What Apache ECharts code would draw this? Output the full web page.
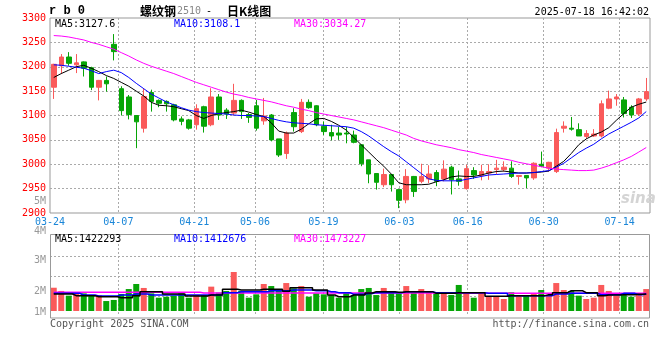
<!DOCTYPE html>
<html><head><meta charset="utf-8">
<script src="https://cdn.jsdelivr.net/npm/echarts@6/dist/echarts.min.js"></script>
<style>html,body{margin:0;padding:0;background:#fff}#c{width:660px;height:360px}</style>
</head><body><div id="c"></div>
<script>
// ---------- data ----------
const dates = ['03-24','03-25','03-26','03-27','03-28','03-31','04-01','04-02','04-03','04-07',
'04-08','04-09','04-10','04-11','04-14','04-15','04-16','04-17','04-18','04-21',
'04-22','04-23','04-24','04-25','04-28','04-29','04-30','05-06','05-07','05-08',
'05-09','05-12','05-13','05-14','05-15','05-16','05-19','05-20','05-21','05-22',
'05-23','05-26','05-27','05-28','05-29','05-30','06-03','06-04','06-05','06-06',
'06-09','06-10','06-11','06-12','06-13','06-16','06-17','06-18','06-19','06-20',
'06-23','06-24','06-25','06-26','06-27','06-30','07-01','07-02','07-03','07-04',
'07-07','07-08','07-09','07-10','07-11','07-14','07-15','07-16','07-17','07-18'];
const labelDates = ['03-24','04-07','04-21','05-06','05-19','06-03','06-16','06-30','07-14'];

const opens = [3158,3202,3220,3204,3210,3198,3158,3172,3246,3155,
3138,3100,3074,3147,3131,3129,3122,3093,3091,3081,
3118,3081,3138,3111,3105,3131,3102,3120,3089,3101,
3052,3022,3106,3067,3127,3120,3078,3065,3064,3064,
3060,3040,3009,2981,2958,2979,2948,2927,2975,2965,
2970,2983,2970,2994,2970,2950,2987,2977,2982,2989,
2989,2992,2975,2977,2972,3000,2992,2985,3074,3074,
3071,3057,3058,3058,3115,3134,3132,3117,3103,3134];
const closes = [3205,3220,3207,3208,3197,3158,3172,3165,3231,3110,
3102,3087,3139,3129,3125,3124,3091,3088,3074,3114,
3078,3138,3101,3103,3131,3108,3096,3074,3099,3050,
3019,3064,3077,3127,3116,3081,3067,3058,3060,3062,
3045,3001,2980,2963,2979,2958,2926,2975,2944,2975,
2980,2965,2990,2968,2965,2991,2978,2985,2985,2992,
2994,2975,2977,2972,3002,2996,3004,3065,3078,3072,
3058,3063,3062,3124,3134,3138,3104,3101,3134,3149];
const lows = [3134,3185,3202,3187,3180,3152,3131,3149,3213,3100,
3092,3033,3065,3108,3117,3108,3088,3080,3071,3071,
3065,3078,3091,3093,3100,3093,3085,3069,3081,3047,
3015,3011,3067,3064,3114,3078,3060,3049,3050,3043,
3043,2996,2961,2948,2953,2944,2910,2920,2933,2961,
2961,2955,2965,2938,2956,2948,2970,2967,2968,2980,
2985,2972,2958,2951,2968,2994,2985,2982,3065,3069,
3058,3052,3056,3055,3113,3120,3096,3095,3099,3130];
const highs = [3206,3226,3230,3226,3211,3200,3173,3180,3267,3160,
3142,3101,3156,3153,3133,3131,3124,3098,3093,3123,
3120,3156,3144,3115,3165,3133,3105,3132,3136,3103,
3052,3067,3115,3134,3133,3121,3088,3081,3077,3077,
3069,3040,3009,2981,2991,2979,2948,2990,2976,3001,
2998,2988,3008,2997,2987,2999,2994,2999,3000,3009,
3006,3006,2977,2977,3004,3026,3005,3073,3088,3097,
3084,3070,3072,3131,3151,3144,3138,3121,3136,3177];

const ma5 = [3178,3186,3193,3200,3203,3197,3190,3182,3176,3168,
3160,3150,3140,3127,3121,3120,3118,3114,3110,3100,
3094,3100,3104,3106,3108,3111,3107,3102,3098,3085,
3068,3064,3064,3072,3083,3093,3094,3088,3080,3070,
3055,3040,3025,3010,2996,2980,2962,2958,2958,2958,
2959,2964,2968,2974,2976,2975,2975,2978,2982,2985,
2986,2984,2982,2982,2983,2984,2986,2996,3006,3022,
3040,3052,3060,3066,3075,3090,3104,3117,3123,3127.6];
const ma10 = [3204,3203,3201,3199,3197,3192,3186,3190,3193,3188,
3178,3166,3155,3144,3136,3128,3122,3116,3111,3108,
3106,3105,3104,3103,3101,3100,3100,3099,3098,3094,
3090,3087,3085,3084,3083,3081,3080,3079,3078,3077,
3074,3067,3058,3047,3036,3026,3017,3005,2993,2981,
2970,2967,2966,2966,2966,2969,2972,2975,2978,2979,
2980,2981,2982,2982,2983,2985,2987,2994,3002,3013,
3024,3033,3041,3052,3062,3070,3078,3086,3095,3108.1];
const ma30 = [3264,3263,3261,3258,3255,3250,3246,3241,3236,3229,
3222,3214,3207,3201,3196,3191,3186,3180,3174,3168,
3163,3158,3153,3148,3144,3141,3137,3134,3131,3128,
3124,3120,3117,3113,3110,3106,3103,3100,3097,3094,
3091,3087,3083,3079,3075,3070,3065,3060,3053,3048,
3044,3040,3037,3034,3030,3027,3024,3020,3017,3014,
3011,3008,3004,3001,2998,2995,2992,2990,2989,2988,
2987,2987,2988,2992,2997,3003,3009,3016,3025,3034.27];

// volume, in millions of lots
const volumeM = [1.94,1.67,1.28,1.42,1.47,1.33,1.33,0.83,0.92,1.42,
1.83,2.25,1.92,1.47,1.11,1.19,1.28,1.47,1.11,1.33,
1.33,2.03,1.53,1.67,3.25,1.67,1.11,1.39,2.25,2.08,
1.69,2.33,1.89,2.08,1.19,1.47,1.39,1.33,1.11,1.56,
1.33,1.83,1.92,1.33,1.92,1.61,1.47,2.08,1.53,1.83,
1.61,1.56,1.56,1.33,2.17,1.47,1.11,1.47,1.25,1.25,
1.00,1.56,1.33,1.25,1.50,1.75,1.33,2.33,1.75,1.67,
1.28,1.00,1.11,2.17,1.67,1.25,1.33,1.19,1.50,1.83];
const volMa5M = [1.42,1.42,1.42,1.28,1.28,1.28,1.19,1.19,1.19,1.11,
1.11,1.28,1.61,1.61,1.61,1.42,1.42,1.42,1.25,1.25,
1.25,1.33,1.33,1.81,1.81,1.75,1.75,1.75,1.81,1.81,
1.81,1.64,1.94,1.94,1.94,1.75,1.75,1.33,1.19,1.19,
1.33,1.33,1.50,1.61,1.61,1.61,1.56,1.61,1.61,1.61,
1.61,1.47,1.47,1.47,1.53,1.53,1.53,1.53,1.22,1.22,
1.22,1.28,1.28,1.28,1.28,1.28,1.36,1.53,1.53,1.69,
1.69,1.53,1.53,1.28,1.33,1.33,1.36,1.36,1.40,1.422293];
const volMa10M = [1.47,1.47,1.47,1.47,1.33,1.33,1.25,1.25,1.25,1.33,
1.33,1.42,1.42,1.33,1.33,1.33,1.33,1.33,1.33,1.33,
1.33,1.33,1.33,1.53,1.53,1.61,1.61,1.61,1.61,1.69,
1.69,1.69,1.75,1.75,1.75,1.69,1.69,1.61,1.53,1.53,
1.39,1.39,1.45,1.53,1.53,1.53,1.53,1.61,1.61,1.61,
1.61,1.53,1.53,1.53,1.53,1.53,1.53,1.53,1.47,1.47,
1.47,1.28,1.28,1.28,1.28,1.28,1.28,1.42,1.42,1.47,
1.47,1.47,1.47,1.36,1.36,1.36,1.47,1.47,1.36,1.412676];
const volMa30M = [1.56,1.56,1.56,1.56,1.56,1.56,1.56,1.56,1.56,1.56,
1.56,1.56,1.56,1.56,1.56,1.56,1.56,1.56,1.56,1.56,
1.50,1.50,1.50,1.50,1.50,1.50,1.50,1.50,1.50,1.50,
1.50,1.50,1.50,1.50,1.50,1.50,1.50,1.50,1.50,1.50,
1.50,1.50,1.50,1.50,1.50,1.50,1.50,1.50,1.50,1.50,
1.50,1.47,1.47,1.47,1.47,1.47,1.47,1.47,1.47,1.47,
1.47,1.47,1.47,1.47,1.47,1.47,1.47,1.47,1.47,1.47,
1.47,1.47,1.47,1.47,1.47,1.47,1.47,1.47,1.47,1.473227];

const volTickLabels = ['5M','4M','3M','2M','1M'];
const volTickY = [201,231,260,291,312];

// ---------- styles ----------
const MONO = '"DejaVu Sans Mono", monospace';
const CJK = '"Noto Sans CJK SC", sans-serif';
const RED = '#fa5a5a', GREEN = '#07a507';
const GRIDC = '#aaaaaa', FRAME = '#999999';
const last = a => a[a.length - 1];

const isLabel = (i, v) => labelDates.indexOf(v) >= 0;
const isSplit = (i, v) => i > 0 && labelDates.indexOf(v) >= 0;

const chart = echarts.init(document.getElementById('c'), null, {renderer: 'canvas'});

const txt = (text, x, y, fill, font, align) => ({
  type: 'text', x: x, y: y, z: 100,
  style: {text: text, fill: fill, font: font, align: align || 'left', verticalAlign: 'middle'}
});

const graphics = [
  {type: 'rect', z: 50, shape: {x: 50.5, y: 234.5, width: 599, height: 83.5},
   style: {fill: 'none', stroke: FRAME, lineWidth: 1}},
  txt('r b 0', 49, 11, '#000', 'bold 12px "Liberation Mono", monospace'),
  txt('螺纹钢', 140, 11, '#000', 'bold 12px ' + CJK),
  txt('2510', 177, 11, '#888', '10px ' + MONO),
  txt('-', 209, 11, '#000', '10px ' + MONO, 'center'),
  txt('日K线图', 227, 11, '#000', 'bold 12px ' + CJK),
  txt('2025-07-18 16:42:02', 649, 12, '#000', '10px ' + MONO, 'right'),
  txt('MA5:' + last(ma5), 55, 24, '#000', '10px ' + MONO),
  txt('MA10:' + last(ma10), 174, 24, '#0000ff', '10px ' + MONO),
  txt('MA30:' + last(ma30), 294, 24, '#ff00ff', '10px ' + MONO),
  txt('MA5:' + Math.round(last(volMa5M) * 1e6), 55, 239, '#000', '10px ' + MONO),
  txt('MA10:' + Math.round(last(volMa10M) * 1e6), 174, 239, '#0000ff', '10px ' + MONO),
  txt('MA30:' + Math.round(last(volMa30M) * 1e6), 294, 239, '#ff00ff', '10px ' + MONO),
  txt('Copyright 2025 SINA.COM', 50, 324, '#555', '10px ' + MONO),
  txt('http://finance.sina.com.cn', 649, 324, '#555', '10px ' + MONO, 'right'),
  txt('sina', 621, 199, '#d4d4d4', 'italic bold 15px "DejaVu Sans", sans-serif')
];
volTickLabels.forEach((t, k) => graphics.push(txt(t, 46, volTickY[k], '#999', '10px ' + MONO, 'right')));

const splitStyle = {color: GRIDC, type: [2, 2], width: 1};
const hiddenCat = (g) => ({type: 'category', gridIndex: g, data: dates, boundaryGap: true,
  axisLine: {show: false}, axisTick: {show: false}, axisLabel: {show: false}, splitLine: {show: false}});

const option = {
  animation: false,
  backgroundColor: '#fff',
  grid: [
    {left: 50, top: 18, width: 600, height: 195, show: true, borderColor: FRAME, borderWidth: 1, backgroundColor: 'transparent'},
    {left: 50, top: 236, width: 600, height: 80}
  ],
  xAxis: [
    hiddenCat(0),
    hiddenCat(1),
    {type: 'category', gridIndex: 0, data: dates, boundaryGap: false, position: 'bottom',
     axisLine: {show: false}, axisTick: {show: false},
     axisLabel: {interval: isLabel, color: '#1a86d8', fontFamily: MONO, fontSize: 10, margin: 4},
     splitLine: {show: true, interval: isSplit, lineStyle: splitStyle}},
    {type: 'category', gridIndex: 1, data: dates, boundaryGap: false, position: 'bottom',
     axisLine: {show: false}, axisTick: {show: false}, axisLabel: {show: false},
     splitLine: {show: true, interval: isSplit, lineStyle: splitStyle}}
  ],
  yAxis: [
    {type: 'value', gridIndex: 0, min: 2900, max: 3300, interval: 50,
     axisLine: {show: false}, axisTick: {show: false},
     axisLabel: {color: '#ff0000', fontFamily: MONO, fontSize: 10, margin: 4, padding: [0, 0, 3, 0],
                 formatter: v => String(v)},
     splitLine: {show: true, lineStyle: splitStyle, showMinLine: false, showMaxLine: false}},
    {type: 'value', gridIndex: 1, min: -5 / 12, max: 6.25,
     axisLine: {show: false}, axisTick: {show: false}, axisLabel: {show: false}, splitLine: {show: false}},
    {type: 'value', gridIndex: 1, min: 0, max: 4, interval: 1,
     axisLine: {show: false}, axisTick: {show: false}, axisLabel: {show: false},
     splitLine: {show: true, lineStyle: splitStyle, showMinLine: false, showMaxLine: false}}
  ],
  series: [
    {type: 'candlestick', xAxisIndex: 0, yAxisIndex: 0, barWidth: 5,
     data: dates.map((d, i) => [opens[i], closes[i], lows[i], highs[i]]),
     itemStyle: {color: RED, color0: GREEN, borderColor: RED, borderColor0: GREEN, borderWidth: 1}, z: 2},
    {type: 'line', name: 'MA5', xAxisIndex: 0, yAxisIndex: 0, data: ma5, symbol: 'none',
     lineStyle: {color: '#000', width: 1}, z: 3},
    {type: 'line', name: 'MA10', xAxisIndex: 0, yAxisIndex: 0, data: ma10, symbol: 'none',
     lineStyle: {color: '#0000ff', width: 1}, z: 3},
    {type: 'line', name: 'MA30', xAxisIndex: 0, yAxisIndex: 0, data: ma30, symbol: 'none',
     lineStyle: {color: '#ff00ff', width: 1}, z: 3},
    {type: 'bar', xAxisIndex: 1, yAxisIndex: 1, barWidth: 6, z: 2,
     data: volumeM.map((v, i) => ({value: v, itemStyle: {color: closes[i] >= opens[i] ? RED : GREEN}}))},
    {type: 'line', xAxisIndex: 1, yAxisIndex: 1, data: volMa30M, symbol: 'none', step: 'middle',
     lineStyle: {color: '#ff00ff', width: 1.5}, z: 3},
    {type: 'line', xAxisIndex: 1, yAxisIndex: 1, data: volMa10M, symbol: 'none', step: 'middle',
     lineStyle: {color: '#0000ff', width: 1.5}, z: 3},
    {type: 'line', xAxisIndex: 1, yAxisIndex: 1, data: volMa5M, symbol: 'none', step: 'middle',
     lineStyle: {color: '#000', width: 1.5}, z: 3}
  ],
  graphic: graphics
};
chart.setOption(option);
</script>
</body></html>
